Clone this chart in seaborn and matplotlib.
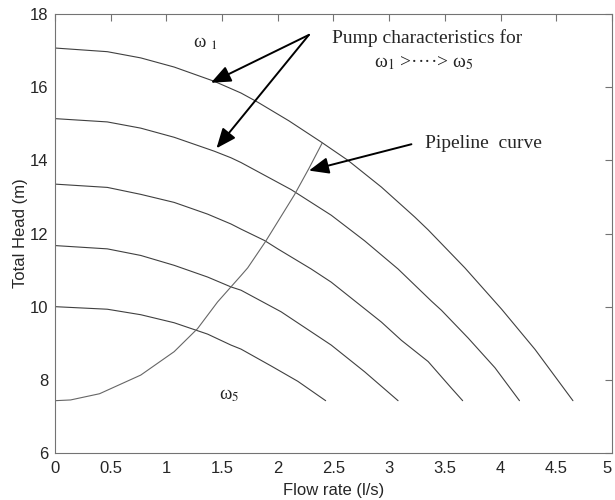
import matplotlib
matplotlib.use("Agg")
import matplotlib.pyplot as plt
import pandas as pd
import seaborn as sns

# pump characteristics, omega_1 (top) .. omega_5 (bottom)
q1 = [0, 0.47, 0.77, 1.07, 1.43, 1.67, 1.82, 2.10, 2.39, 2.63, 2.93, 3.23, 3.35, 3.68, 4.01, 4.31, 4.65]
h1 = [17.07, 16.97, 16.80, 16.55, 16.16, 15.84, 15.59, 15.08, 14.50, 14.00, 13.27, 12.45, 12.10, 11.06, 9.93, 8.83, 7.43]
q2 = [0, 0.47, 0.77, 1.07, 1.43, 1.58, 1.67, 2.12, 2.48, 2.78, 3.08, 3.38, 3.47, 3.71, 3.95, 4.17]
h2 = [15.14, 15.05, 14.88, 14.63, 14.25, 14.07, 13.94, 13.20, 12.50, 11.80, 11.03, 10.15, 9.90, 9.14, 8.33, 7.43]
q3 = [0, 0.47, 0.77, 1.07, 1.37, 1.58, 1.67, 1.88, 2.0, 2.3, 2.48, 2.93, 3.11, 3.35, 3.56, 3.66]
h3 = [13.35, 13.26, 13.07, 12.85, 12.53, 12.26, 12.12, 11.81, 11.58, 11.03, 10.67, 9.58, 9.08, 8.50, 7.77, 7.43]
q4 = [0, 0.47, 0.77, 1.07, 1.37, 1.58, 1.67, 2.03, 2.48, 2.78, 3.08]
h4 = [11.67, 11.58, 11.40, 11.13, 10.81, 10.54, 10.45, 9.86, 8.95, 8.22, 7.43]
q5 = [0, 0.47, 0.77, 1.07, 1.37, 1.58, 1.67, 1.94, 2.18, 2.43]
h5 = [10.0, 9.93, 9.78, 9.56, 9.25, 8.95, 8.84, 8.38, 7.96, 7.43]

# pipeline (system) curve
q_pipe = [0, 0.14, 0.40, 0.77, 1.07, 1.28, 1.46, 1.67, 1.73, 1.89, 2.15, 2.28, 2.40]
h_pipe = [7.43, 7.45, 7.62, 8.13, 8.77, 9.40, 10.13, 10.85, 11.06, 11.78, 13.06, 13.78, 14.48]

x_ticks = [0, 0.5, 1, 1.5, 2, 2.5, 3, 3.5, 4, 4.5, 5]
y_ticks = [6, 8, 10, 12, 14, 16, 18]

sns.set_style("white")
plt.rcParams['font.family'] = ['Liberation Sans', 'DejaVu Sans']
plt.rcParams['mathtext.fontset'] = 'stix'

rows = []
for name, qs, hs in [("w1", q1, h1), ("w2", q2, h2), ("w3", q3, h3),
                     ("w4", q4, h4), ("w5", q5, h5)]:
    for q, h in zip(qs, hs):
        rows.append({"curve": name, "Q": q, "H": h})
pumps = pd.DataFrame(rows)
pipe = pd.DataFrame({"Q": q_pipe, "H": h_pipe})

fig = plt.figure(figsize=(6.15, 5.0), dpi=100)
ax = fig.add_axes([0.0894, 0.094, 0.9056, 0.878])

sns.lineplot(data=pumps, x="Q", y="H", units="curve", estimator=None, sort=False,
             color="0.25", lw=0.8, ax=ax)
sns.lineplot(data=pipe, x="Q", y="H", sort=False, estimator=None,
             color="0.4", lw=0.8, ax=ax)

ax.set_xlim(0, 5)
ax.set_ylim(6, 18)
ax.set_xticks(x_ticks)
ax.set_xticklabels([f"{t:g}" for t in x_ticks])
ax.set_yticks(y_ticks)
ax.set_xlabel("Flow rate (l/s)", fontsize=12, labelpad=5)
ax.set_ylabel("Total Head (m)", fontsize=12, labelpad=1)
ax.tick_params(direction="in", top=True, right=True, length=5, width=0.8,
               color="0.45", labelsize=12)
ax.tick_params(axis="x", pad=6)
ax.tick_params(axis="y", pad=5)
# the last x label sits on the figure edge; keep it inside
ax.get_xticklabels()[-1].set_ha("right")
for s in ax.spines.values():
    s.set_color("0.45")
    s.set_linewidth(0.8)

serif = ['Liberation Serif', 'DejaVu Serif']
ax.text(1.24, 17.2, r"ω $_1$", family=serif, fontsize=13.5, va="center")
ax.text(1.47, 7.58, r"ω$_5$", family=serif, fontsize=13.5, va="center")
ax.text(3.34, 17.33, "Pump characteristics for", family=serif, fontsize=14,
        ha="center", va="center")
ax.text(3.31, 16.65, r"ω$_1$ >····> ω$_5$", family=serif, fontsize=14,
        ha="center", va="center")
ax.text(3.32, 14.45, "Pipeline  curve", family=serif, fontsize=14, va="center")

head = dict(arrowstyle="-|>,head_length=0.6,head_width=0.25", color="k",
            lw=1.4, mutation_scale=20, shrinkA=0, shrinkB=0)
ax.annotate("", xy=(1.40, 16.12), xytext=(2.28, 17.43), arrowprops=head)
ax.annotate("", xy=(1.45, 14.33), xytext=(2.28, 17.43), arrowprops=head)
ax.annotate("", xy=(2.28, 13.72), xytext=(3.20, 14.44), arrowprops=head)

fig.savefig("out.png", dpi=100)
